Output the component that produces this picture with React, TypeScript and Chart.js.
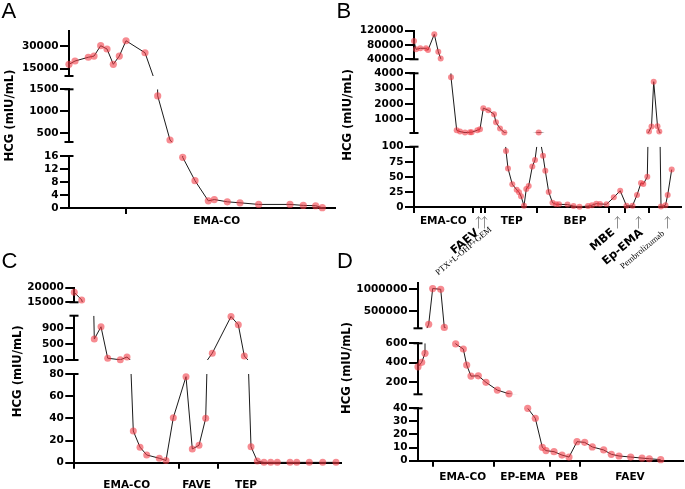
import React, { useEffect, useRef } from "react";
import { Chart, registerables } from "chart.js";

Chart.register(...registerables);

// ---------------- Panel A ----------------
const aDay = [0, 6, 19.3, 25, 31.7, 38, 44.3, 50.3, 57, 76, 88.7, 101, 113.7, 126, 139.3, 145.3, 158.3, 171, 189.7, 221, 234.3, 246.7, 253.3];
const aHcg = [17800, 20000, 22500, 23300, 30200, 28000, 17800, 23300, 33500, 25500, 1350, 345, 15.6, 8.4, 2.2, 2.6, 1.9, 1.6, 1.1, 1.1, 0.8, 0.7, 0.1];
const aBreaks = [57];
const aRegimens = ["EMA-CO"];
const aRegimenMid = [147.7];
const aRangeTop = [10000, 40000];
const aRangeMid = [300, 1500];
const aRangeBot = [0, 16];
const aTicksTop = [15000, 30000];
const aTicksMid = [500, 1000, 1500];
const aTicksBot = [0, 4, 8, 12, 16];

// ---------------- Panel B ----------------
const bDay = [0, 2, 6.3, 12, 14, 20.3, 24.3, 26.7, 37, 42.7, 46, 51, 56, 57.7, 63.3, 66, 69.3, 74.3, 80, 82, 86, 90.3, 92, 94, 98.3, 102.7, 105, 107, 110, 112.3, 114.7, 118.3, 121, 124.7, 129, 131.3, 134.7, 138.5, 142, 145, 153.5, 159.5, 165.5, 174, 178, 182.3, 186, 192.5, 199.8, 206.2, 212.5, 218.5, 223, 227, 229.3, 233.3, 235, 237.5, 239.7, 243.5, 245.3, 247, 251.5, 253.7, 257.7];
const bHcg = [91000, 68000, 70800, 70800, 66000, 110000, 61000, 42000, 3740, 280, 190, 125, 150, 150, 280, 350, 1720, 1590, 1330, 800, 390, 130, 93, 64, 37.6, 28.7, 24.3, 18, 2, 30, 35, 67, 78, 125, 85, 60, 25, 7, 4.5, 4.5, 4, 1.5, 0.5, 1.5, 3, 5.5, 5, 4.5, 16, 27, 2, 2, 20, 40, 38, 50, 200, 520, 3450, 540, 200, 1, 3, 20, 62];
const bBreaks = [0, 59.3, 67.5, 71.5, 122.5, 194.5, 210.7, 234.7];
const bRegimens = ["EMA-CO", "TEP", "BEP"];
const bRegimenMid = [29.3, 97.7, 161];
const bNotes = ["FAEV", "PTX+L-OHP+GEM", "MBE", "Ep-EMA", "Pembrolizumab"];
const bNoteDay = [63.3, 76.7, 199.3, 227.7, 249.3];
const bArrowDay = [63.7, 70.3, 202.7, 224.3, 252.7];
const bRangeTop = [40000, 120000];
const bRangeMid = [100, 4000];
const bRangeBot = [0, 100];
const bTicksTop = [40000, 80000, 120000];
const bTicksMid = [1000, 2000, 3000, 4000];
const bTicksBot = [0, 25, 50, 75, 100];

// ---------------- Panel C ----------------
const cDay = [0, 7.4, 20, 26.7, 33.4, 46, 52.7, 59, 65.7, 72.4, 85, 91.7, 99, 111.7, 118, 124.7, 131.4, 138, 156.7, 164, 170, 176.7, 183, 189.7, 196.4, 203, 215.7, 222.4, 235, 248.4, 261.7];
const cHcg = [18400, 15800, 620, 925, 145, 105, 175, 28.6, 14, 7, 4, 2, 40.6, 77.6, 12.4, 15.7, 40, 270, 1180, 975, 200, 14.4, 1.5, 0.3, 0.3, 0.3, 0.3, 0.3, 0.3, 0.3, 0.3];
const cBreaks = [0, 104.7, 144];
const cRegimens = ["EMA-CO", "FAVE", "TEP"];
const cRegimenMid = [52.4, 122.4, 171.7];
const cRangeTop = [15000, 20000];
const cRangeMid = [100, 1200];
const cRangeBot = [0, 80];
const cTicksTop = [15000, 20000];
const cTicksMid = [100, 500, 900];
const cTicksBot = [0, 20, 40, 60, 80];

// ---------------- Panel D ----------------
const dDay = [0, 3.7, 7, 10.7, 14.7, 22.7, 26.3, 37.7, 45.3, 48.7, 53, 60.3, 68, 79.3, 91, 109.7, 117.3, 124.3, 128, 136, 144, 151, 159, 166.7, 174.3, 185.7, 193.3, 201, 212.7, 224, 231.3, 242.7];
const dHcg = [356, 402, 496, 193000, 1010000, 993000, 119000, 593, 541, 374, 259, 262, 194, 114, 75, 40, 32.4, 10.2, 7.7, 6.9, 4.3, 2.8, 14.5, 14, 10.5, 8.2, 4.9, 3.6, 2.8, 2, 1.5, 0.8];
const dBreaks = [15.3, 76, 132.3, 162.3];
const dRegimens = ["EMA-CO", "EP-EMA", "PEB", "FAEV"];
const dRegimenMid = [44.7, 104.7, 148.7, 212];
const dRangeTop = [100000, 1130000];
const dRangeMid = [70, 600];
const dRangeBot = [0, 40];
const dTicksTop = [500000, 1000000];
const dTicksMid = [200, 400, 600];
const dTicksBot = [0, 10, 20, 30, 40];

const Y_TITLE = "HCG (mIU/mL)";

// ---------------- styles ----------------
const PT_COLOR = "rgba(242, 62, 72, 0.6)";
const LINE_COLOR = "#1a1a1a";
const SANS = "'DejaVu Sans', sans-serif";
const TICK_FONT = { family: SANS, size: 10.5, weight: "bold" as const };
const LABEL_FONT = "bold 10.5px 'DejaVu Sans', sans-serif";
const TITLE_FONT = "bold 11.6px 'DejaVu Sans', sans-serif";
const LETTER_FONT = "22px 'Liberation Sans', Arial, sans-serif";
const W = 685;
const H = 489;
const YW = 66;
const XH = 10;

type Seg = { range: number[]; ticks: number[] };
interface PanelSpec {
  letter: string;
  letterPos: number[];
  area: { l: number; t: number; r: number; b: number };
  heights: number[];
  xMax: number;
  days: number[];
  hcg: number[];
  segs: Seg[];
  breaks: number[];
  regimens: string[];
  regimenMid: number[];
  regimenDy: number;
  titleX: number;
  pointR: number;
  extra?: (ctx: CanvasRenderingContext2D, chart: any) => void;
}

function drawBExtras(ctx: CanvasRenderingContext2D, chart: any) {
  const xs = chart.scales.x;
  const base = chart.chartArea.bottom;
  ctx.save();
  ctx.strokeStyle = "#8f8f8f";
  ctx.lineWidth = 1;
  bArrowDay.forEach((d) => {
    const px = Math.round(xs.getPixelForValue(d)) + 0.5;
    ctx.beginPath();
    ctx.moveTo(px, base + 21.5);
    ctx.lineTo(px, base + 9.5);
    ctx.moveTo(px - 2.5, base + 12.5);
    ctx.lineTo(px, base + 9.5);
    ctx.lineTo(px + 2.5, base + 12.5);
    ctx.stroke();
  });
  const fonts = [
    "bold 11.5px 'DejaVu Sans', sans-serif",
    "8.6px 'Liberation Serif', serif",
    "bold 11.5px 'DejaVu Sans', sans-serif",
    "bold 11.5px 'DejaVu Sans', sans-serif",
    "8.6px 'Liberation Serif', serif",
  ];
  const dys = [24.5, 21.5, 24, 24.5, 25.5];
  ctx.fillStyle = "#000";
  bNotes.forEach((txt, i) => {
    ctx.save();
    ctx.translate(xs.getPixelForValue(bNoteDay[i]), base + dys[i]);
    ctx.rotate((-40 * Math.PI) / 180);
    ctx.font = fonts[i];
    ctx.textAlign = "right";
    ctx.textBaseline = "middle";
    ctx.fillText(txt, 0, 0);
    ctx.restore();
  });
  ctx.restore();
}

const PANELS: PanelSpec[] = [
  {
    letter: "A",
    letterPos: [1.5, 18.3],
    area: { l: 69, t: 31, r: 335, b: 208 },
    heights: [45, 13.3, 52.7, 14, 52],
    xMax: 266,
    days: aDay,
    hcg: aHcg,
    segs: [
      { range: aRangeTop, ticks: aTicksTop },
      { range: aRangeMid, ticks: aTicksMid },
      { range: aRangeBot, ticks: aTicksBot },
    ],
    breaks: aBreaks,
    regimens: aRegimens,
    regimenMid: aRegimenMid,
    regimenDy: 16,
    titleX: 9.5,
    pointR: 3.6,
  },
  {
    letter: "B",
    letterPos: [336.5, 18.3],
    area: { l: 414, t: 30.7, r: 681, b: 207 },
    heights: [28.6, 14, 59.7, 13.7, 60.3],
    xMax: 267,
    days: bDay,
    hcg: bHcg,
    segs: [
      { range: bRangeTop, ticks: bTicksTop },
      { range: bRangeMid, ticks: bTicksMid },
      { range: bRangeBot, ticks: bTicksBot },
    ],
    breaks: bBreaks,
    regimens: bRegimens,
    regimenMid: bRegimenMid,
    regimenDy: 16.7,
    titleX: 347.5,
    pointR: 3,
    extra: drawBExtras,
  },
  {
    letter: "C",
    letterPos: [1.5, 268.3],
    area: { l: 74.3, t: 287.7, r: 341, b: 462.7 },
    heights: [14.6, 13.4, 44.3, 14, 88.7],
    xMax: 266.7,
    days: cDay,
    hcg: cHcg,
    segs: [
      { range: cRangeTop, ticks: cTicksTop },
      { range: cRangeMid, ticks: cTicksMid },
      { range: cRangeBot, ticks: cTicksBot },
    ],
    breaks: cBreaks,
    regimens: cRegimens,
    regimenMid: cRegimenMid,
    regimenDy: 25.6,
    titleX: 17.5,
    pointR: 3.5,
  },
  {
    letter: "D",
    letterPos: [337, 267.7],
    area: { l: 418, t: 283.3, r: 683, b: 460.7 },
    heights: [45, 15, 51, 14, 52.4],
    xMax: 265,
    days: dDay,
    hcg: dHcg,
    segs: [
      { range: dRangeTop, ticks: dTicksTop },
      { range: dRangeMid, ticks: dTicksMid },
      { range: dRangeBot, ticks: dTicksBot },
    ],
    breaks: dBreaks,
    regimens: dRegimens,
    regimenMid: dRegimenMid,
    regimenDy: 19.6,
    titleX: 347,
    pointR: 3.6,
  },
];

const SEG_IDS = ["yTop", "yMid", "yBot"];

const segClipPlugin = {
  id: "segClip",
  beforeDatasetDraw(chart: any, args: any) {
    const ds = chart.data.datasets[args.index];
    if (!ds.segClip) return;
    const { xScale, yScale } = args.meta;
    const ctx = chart.ctx;
    ctx.save();
    ctx.beginPath();
    ctx.rect(xScale.left, yScale.top, xScale.right - xScale.left, yScale.bottom - yScale.top);
    ctx.clip();
  },
  afterDatasetDraw(chart: any, args: any) {
    const ds = chart.data.datasets[args.index];
    if (!ds.segClip) return;
    chart.ctx.restore();
  },
};

function decorPlugin(p: PanelSpec) {
  return {
    id: "decor",
    afterDraw(chart: any) {
      const ctx: CanvasRenderingContext2D = chart.ctx;
      const xs = chart.scales.x;
      const area = chart.chartArea;
      ctx.save();
      // caps at inner segment ends
      ctx.strokeStyle = "#000";
      ctx.lineWidth = 2;
      const caps: Array<[string, "top" | "bottom"]> = [
        ["yTop", "bottom"],
        ["yMid", "top"],
        ["yMid", "bottom"],
        ["yBot", "top"],
      ];
      caps.forEach(([id, end]) => {
        const s = chart.scales[id];
        const ax = Math.round(s.right);
        const y = end === "top" ? s.top : s.bottom;
        ctx.beginPath();
        ctx.moveTo(ax - 4.5, y);
        ctx.lineTo(ax + 4.5, y);
        ctx.stroke();
      });
      // regimen labels
      ctx.fillStyle = "#000";
      ctx.font = LABEL_FONT;
      ctx.textAlign = "center";
      ctx.textBaseline = "alphabetic";
      p.regimens.forEach((r, i) => {
        ctx.fillText(r, xs.getPixelForValue(p.regimenMid[i]), area.bottom + p.regimenDy);
      });
      // y title
      ctx.save();
      ctx.translate(p.titleX, (area.top + area.bottom) / 2 - 4);
      ctx.rotate(-Math.PI / 2);
      ctx.font = TITLE_FONT;
      ctx.textAlign = "center";
      ctx.textBaseline = "middle";
      ctx.fillText(Y_TITLE, 0, 0);
      ctx.restore();
      // panel letter
      ctx.font = LETTER_FONT;
      ctx.textAlign = "left";
      ctx.textBaseline = "alphabetic";
      ctx.fillText(p.letter, p.letterPos[0], p.letterPos[1]);
      ctx.restore();
      if (p.extra) p.extra(ctx, chart);
    },
  };
}

function buildChart(canvas: HTMLCanvasElement, p: PanelSpec) {
  const scales: any = {
    x: {
      type: "linear",
      position: "bottom",
      min: 0,
      max: p.xMax,
      afterBuildTicks: (s: any) => {
        s.ticks = p.breaks.map((v) => ({ value: v }));
      },
      afterFit: (s: any) => {
        s.height = XH;
      },
      ticks: { display: false },
      grid: { display: true, drawOnChartArea: false, drawTicks: true, tickLength: 6, lineWidth: 2, color: "#000" },
      border: { display: true, width: 2, color: "#000" },
    },
  };
  const stack = [
    { id: "yTop", seg: p.segs[0], h: p.heights[0] },
    { id: "gap1", seg: null, h: p.heights[1] },
    { id: "yMid", seg: p.segs[1], h: p.heights[2] },
    { id: "gap2", seg: null, h: p.heights[3] },
    { id: "yBot", seg: p.segs[2], h: p.heights[4] },
  ];
  stack.forEach((st, i) => {
    const weight = 10 - i;
    if (!st.seg) {
      scales[st.id] = {
        type: "linear",
        position: "left",
        stack: "ystack",
        stackWeight: st.h,
        weight,
        min: 0,
        max: 1,
        ticks: { display: false },
        grid: { display: false },
        border: { display: false },
        afterFit: (s: any) => {
          s.width = YW;
        },
      };
    } else {
      const seg = st.seg;
      scales[st.id] = {
        type: "linear",
        position: "left",
        stack: "ystack",
        stackWeight: st.h,
        weight,
        min: seg.range[0],
        max: seg.range[1],
        afterBuildTicks: (s: any) => {
          s.ticks = seg.ticks.map((v) => ({ value: v }));
        },
        afterFit: (s: any) => {
          s.width = YW;
        },
        ticks: {
          color: "#000",
          font: TICK_FONT,
          padding: 1.5,
          autoSkip: false,
          callback: (v: any) => String(v),
        },
        grid: { display: true, drawOnChartArea: false, drawTicks: true, tickLength: 9, lineWidth: 2, color: "#000" },
        border: { display: true, width: 2, color: "#000" },
      };
    }
  });

  const datasets: any[] = [];
  SEG_IDS.forEach((id, k) => {
    const [lo, hi] = p.segs[k].range;
    datasets.push({
      type: "line",
      yAxisID: id,
      xAxisID: "x",
      order: 0,
      showLine: false,
      clip: false,
      data: p.days.map((d, i) => ({ x: d, y: p.hcg[i] >= lo && p.hcg[i] <= hi ? p.hcg[i] : null })),
      pointRadius: p.pointR,
      pointHoverRadius: p.pointR,
      pointBackgroundColor: PT_COLOR,
      pointBorderColor: "rgba(0,0,0,0)",
      pointBorderWidth: 0,
    });
  });
  SEG_IDS.forEach((id) => {
    datasets.push({
      type: "line",
      yAxisID: id,
      xAxisID: "x",
      order: 1,
      segClip: true,
      data: p.days.map((d, i) => ({ x: d, y: p.hcg[i] })),
      borderColor: LINE_COLOR,
      borderWidth: 1,
      pointRadius: 0,
      pointHoverRadius: 0,
      fill: false,
      tension: 0,
    });
  });

  return new Chart(canvas, {
    type: "line",
    data: { datasets },
    options: {
      responsive: false,
      animation: false,
      devicePixelRatio: 1,
      events: [],
      layout: {
        autoPadding: false,
        padding: {
          left: p.area.l - YW,
          top: p.area.t,
          right: W - p.area.r,
          bottom: H - p.area.b - XH,
        },
      },
      plugins: { legend: { display: false }, tooltip: { enabled: false } },
      scales,
    } as any,
    plugins: [segClipPlugin, decorPlugin(p)] as any,
  });
}

function Panel({ spec }: { spec: PanelSpec }) {
  const ref = useRef<HTMLCanvasElement>(null);
  useEffect(() => {
    if (!ref.current) return;
    const chart = buildChart(ref.current, spec);
    return () => chart.destroy();
  }, [spec]);
  return (
    <canvas
      ref={ref}
      width={W}
      height={H}
      style={{ position: "absolute", left: 0, top: 0, width: W, height: H }}
    />
  );
}

export default function App() {
  return (
    <div
      style={{
        position: "fixed",
        left: 0,
        top: 0,
        width: W,
        height: H,
        background: "#fff",
        overflow: "hidden",
      }}
    >
      {PANELS.map((p) => (
        <Panel key={p.letter} spec={p} />
      ))}
    </div>
  );
}
